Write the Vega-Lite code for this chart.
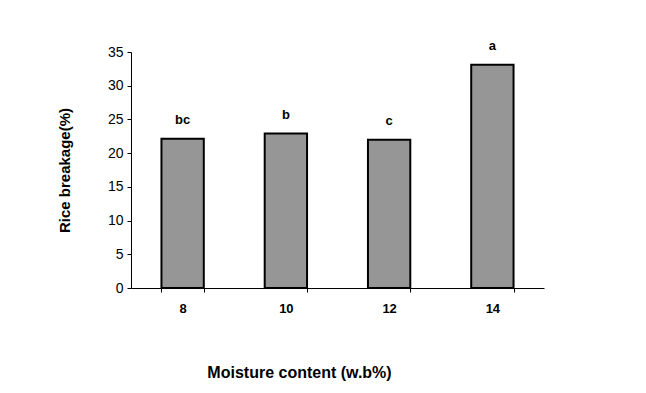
{
  "$schema": "https://vega.github.io/schema/vega-lite/v6.json",
  "width": 413,
  "height": 236,
  "autosize": "none",
  "padding": {"left": 131, "top": 52, "right": 102, "bottom": 105},
  "background": "white",
  "config": {"view": {"stroke": null}, "font": "Liberation Sans"},
  "data": {"values": [
    {"moisture": "8", "breakage": 22.15, "group": "bc"},
    {"moisture": "10", "breakage": 22.9, "group": "b"},
    {"moisture": "12", "breakage": 22.0, "group": "c"},
    {"moisture": "14", "breakage": 33.1, "group": "a"}
  ]},
  "encoding": {
    "x": {"field": "moisture", "type": "ordinal", "sort": null,
      "scale": {"paddingInner": 0.59, "paddingOuter": 0.295},
      "axis": {"title": "Moisture content (w.b%)", "labelAngle": 0, "labelFontWeight": "bold", "labelFontSize": 13, "labelColor": "black",
        "labelPadding": 10, "tickBand": "extent", "tickSize": 4, "tickColor": "black", "domainColor": "black",
        "titleFontSize": 16, "titleFontWeight": "bold", "titleColor": "black", "titlePadding": 49, "titleX": 168}},
    "y": {"field": "breakage", "type": "quantitative",
      "scale": {"domain": [0, 35]},
      "axis": {"title": "Rice breakage(%)", "values": [0,5,10,15,20,25,30,35], "grid": false, "labelFontSize": 14, "labelColor": "black",
        "tickSize": 4, "tickColor": "black", "domainColor": "black", "labelPadding": 4,
        "titleFontSize": 15, "titleFontWeight": "bold", "titleColor": "black", "titlePadding": 35}}
  },
  "layer": [
    {"mark": {"type": "bar", "color": "#969696", "stroke": "black", "strokeWidth": 2}},
    {"mark": {"type": "text", "dy": -19, "fontWeight": "bold", "fontSize": 13, "color": "black", "baseline": "middle"},
      "encoding": {"text": {"field": "group"}}}
  ]
}
